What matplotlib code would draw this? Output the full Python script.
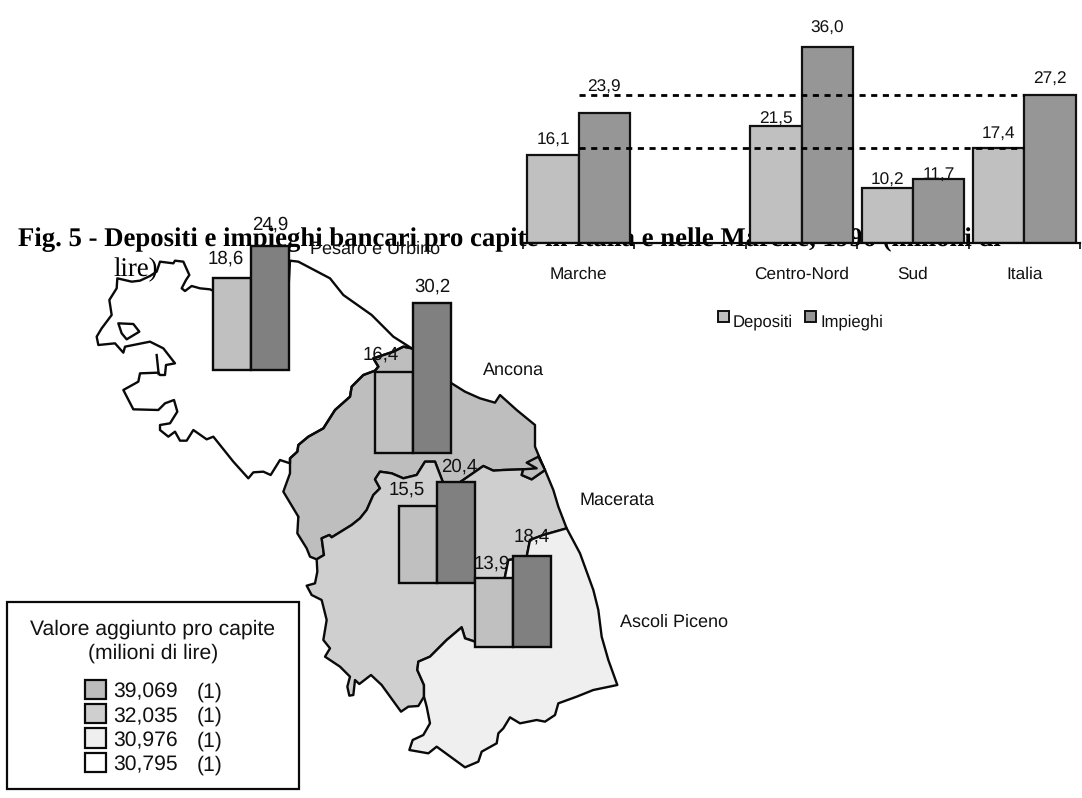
import matplotlib
matplotlib.use("Agg")
import matplotlib.pyplot as plt
from matplotlib.patches import Polygon, Rectangle

plt.rcParams["font.family"] = ["Liberation Sans", "DejaVu Sans"]
plt.rcParams["text.hinting"] = "no_hinting"

W, H = 1082, 798
INK = "#111111"

# National comparison bars
areas = ["Marche", "", "Centro-Nord", "Sud", "Italia"]
depositi = [16.1, None, 21.5, 10.2, 17.4]
impieghi = [23.9, None, 36.0, 11.7, 27.2]
series_names = ["Depositi", "Impieghi"]
depositi_top_color = "#c0c0c0"
impieghi_top_color = "#969696"

# Provincial bars
provinces = ["Pesaro e Urbino", "Ancona", "Macerata", "Ascoli Piceno"]
prov_depositi = [18.6, 16.4, 15.5, 13.9]
prov_impieghi = [24.9, 30.2, 20.4, 18.4]

# Value-added legend
legend_title = ["Valore aggiunto pro capite", "(milioni di lire)"]
legend_values = ["39,069", "32,035", "30,976", "30,795"]
legend_counts = ["(1)", "(1)", "(1)", "(1)"]
legend_colors = ["#bcbcbc", "#cfcfcf", "#efefef", "#ffffff"]

title_line = "Fig. 5 - Depositi e impieghi bancari pro capite in Italia e nelle Marche, 1996 (milioni di"
title_tail = "lire)"

# Province outlines, traced in two local sheets at one third of a pixel per unit
NORTH = (60, 220)
SOUTH = (260, 440)

pesaro_n = [(172,175),(215,185),(240,182),(270,168),(290,155),(300,125),(340,130),(345,122),
    (370,125),(388,165),(378,180),(365,205),(375,213),(395,198),(420,205),(450,208),(465,215),
    (685,215),(690,122),(715,125),(810,175),(850,225),(935,285),(1000,350),(1055,385),
    (1030,380),(1000,395),(940,415),(955,440),(945,452),(910,465),(875,500),(870,530),
    (825,570),(790,625),(745,650),(715,675),(712,695),(690,715),(690,730),(660,720),(632,765),
    (610,755),(580,757),(565,775),(520,725),(460,650),(440,658),(400,630),(380,662),(360,662),
    (345,635),(325,650),(300,630),(300,615),(330,610),(352,575),(342,540),(315,550),(295,570),
    (220,568),(190,510),(235,485),(240,460),(295,458),(300,465),(315,465),(318,435),(345,430),
    (310,385),(270,365),(195,380),(190,398),(165,370),(115,375),(110,350),(125,325),(155,285),
    (148,240),(170,205)]
pesaro_hole_n = [(175,310),(220,312),(238,335),(200,358),(185,340)]
pesaro_inlet_n = [(290,405),(296,462)]

ancona_n = [(1055,385),(1030,380),(1000,395),(940,415),(955,440),(945,452),(910,465),(875,500),
    (870,530),(825,570),(790,625),(745,650),(715,675),(712,695),(690,715),(690,730),(690,760),
    (670,815),(715,890)]
ancona_coast_n = [(1175,490),(1215,515),(1260,535),(1305,548),(1320,525),(1370,570),(1425,615),
    (1425,680),(1450,740)]
ancona_s = [(115,230),(112,280),(140,325),(150,350),(170,358),(192,345),(185,295),(208,285),
    (215,292),(275,255),(300,235),(320,210),(340,165),(360,145),(345,118),(360,95),(395,100),
    (430,115),(470,105),(495,65),(525,65),(550,130),(595,130),(650,92),(670,78),(700,92),
    (730,90),(790,88),(785,105),(815,118),(855,90),(835,50)]

macerata_s = [(170,358),(192,345),(185,295),(208,285),(215,292),(275,255),(300,235),(320,210),
    (340,165),(360,145),(345,118),(360,95),(395,100),(430,115),(470,105),(495,65),(525,65),
    (550,130),(595,130),(650,92),(670,78),(700,92),(730,90),(790,88),(785,105),(815,118),(855,90),
    (880,150),(895,200),(920,265),(850,285),(810,300),(800,350),(760,358),(745,360),(735,410),
    (645,605),(615,595),(605,562),(560,600),(510,650),(475,665),(472,690),(492,735),(492,770),
    (475,798),(445,800),(423,815),(365,735),(333,705),(298,732),(285,720),(280,765),(268,767),
    (262,740),(270,710),(240,680),(195,650),(210,625),(190,600),(200,540),(185,480),(155,465),
    (140,437),(165,430),(172,395)]

ascoli_s = [(920,265),(960,340),(1000,450),(1015,510),(1025,590),(1045,660),(1072,735),(1000,750),
    (950,770),(895,790),(885,825),(855,845),(830,840),(780,850),(750,832),(730,865),(715,880),
    (710,910),(665,935),(655,965),(615,982),(530,920),(505,940),(448,930),(458,900),(490,885),
    (510,850),(500,800),(492,770),(492,735),(472,690),(475,665),(510,650),(560,600),(605,562),
    (615,595),(645,605),(735,410),(745,360),(760,358),(800,350),(810,300),(850,285)]
enclave_s = [(790,88),(830,85),(800,68),(835,50),(855,90),(815,118),(785,105)]


def place(points, sheet):
    return [(sheet[0] + x / 3, sheet[1] + y / 3) for x, y in points]


def comma(value):
    return f"{value:.1f}".replace(".", ",")


fig = plt.figure(figsize=(W / 100, H / 100), dpi=100, facecolor="white")


def pixel_axes(left, top, right, bottom, z):
    ax = fig.add_axes([left / W, 1 - bottom / H, (right - left) / W, (bottom - top) / H], zorder=z)
    ax.patch.set_alpha(0)
    return ax


# Page layer: title and map, addressed in sheet pixels
page = pixel_axes(0, 0, W, H, 1)
page.set_xlim(0, W)
page.set_ylim(H, 0)
page.axis("off")

page.text(18, 246, title_line, family="Liberation Serif", weight="bold", fontsize=19.25,
          color="black", va="baseline", ha="left", zorder=1)
page.text(113, 276, title_tail, family="Liberation Serif", fontsize=19.25,
          color="black", va="baseline", ha="left", zorder=1)

line = dict(edgecolor="#0a0a0a", linewidth=1.7, joinstyle="round")
ancona_ring = place(ancona_n, NORTH) + place(ancona_s, SOUTH) + place(ancona_coast_n[::-1], NORTH)
page.add_patch(Polygon(ancona_ring, closed=True, facecolor="#bebebe", zorder=2, **line))
page.add_patch(Polygon(place(macerata_s, SOUTH), closed=True, facecolor="#cfcfcf", zorder=2, **line))
page.add_patch(Polygon(place(ascoli_s, SOUTH), closed=True, facecolor="#efefef", zorder=2, **line))
page.add_patch(Polygon(place(enclave_s, SOUTH), closed=True, facecolor="#bebebe", zorder=2, **line))
page.add_patch(Polygon(place(pesaro_n, NORTH), closed=True, facecolor="none", zorder=3, **line))
page.add_patch(Polygon(place(pesaro_hole_n, NORTH), closed=True, facecolor="white", zorder=3, **line))
inlet = place(pesaro_inlet_n, NORTH)
page.plot([p[0] for p in inlet], [p[1] for p in inlet], color="#0a0a0a", lw=1.7, zorder=3)

# Province names
name_spots = [(310, 249), (483, 370), (580, 500), (620, 622)]
for name, (x, y) in zip(provinces, name_spots):
    page.text(x, y, name, fontsize=13, color=INK, va="center", ha="left", zorder=5)

# Value-added legend box
page.add_patch(Rectangle((7, 602), 292, 187, facecolor="white", edgecolor="#0a0a0a", lw=1.6, zorder=6))
for text, y in zip(legend_title, (629, 653)):
    page.text(153, y, text, fontsize=15.2, color=INK, ha="center", va="center", zorder=7)
for i, (val, cnt, col) in enumerate(zip(legend_values, legend_counts, legend_colors)):
    y = 692 + i * 24.4
    page.add_patch(Rectangle((85, y - 12.5), 21, 19.5, facecolor=col, edgecolor="#0a0a0a", lw=1.6, zorder=7))
    page.text(113, y, val, fontsize=15.2, color=INK, ha="left", va="center", zorder=7)
    page.text(197, y, cnt, fontsize=15.2, color=INK, ha="left", va="center", zorder=7)

# Provincial bar groups
PX_PER_UNIT = 4.96
groups = [(213, 370), (375, 453), (399, 583), (475, 647)]
label_shift = [((-6, 19), (0, 22)), ((-13, 17), (0, 17)), ((-11, 16), (3, 15)), ((-2, 14), (0, 19))]
for (x0, base), dep, imp, shift in zip(groups, prov_depositi, prov_impieghi, label_shift):
    ax = pixel_axes(x0, base - 170, x0 + 76, base, 4)
    ax.set_xlim(0, 2)
    ax.set_ylim(0, 170 / PX_PER_UNIT)
    ax.axis("off")
    for pos, val, col, (dx, dy) in zip((0.5, 1.5), (dep, imp), ("#c0c0c0", "#808080"), shift):
        ax.bar(pos, val, width=1, color=col, edgecolor="#0a0a0a", linewidth=1.7, clip_on=False)
        ax.annotate(comma(val), (pos, val), xytext=(dx * 0.72, dy * 0.72),
                    textcoords="offset points", ha="center", va="center", fontsize=13.4,
                    color=INK, annotation_clip=False)

# National chart
main = pixel_axes(523, 30, 1080, 243, 4)
main.set_xlim(-0.5, 4.5)
main.set_ylim(0, 213 / 5.44)
for s in ("top", "left", "right"):
    main.spines[s].set_visible(False)
main.spines["bottom"].set_linewidth(1.6)
main.spines["bottom"].set_color("#0a0a0a")
main.set_yticks([])
main.set_xticks([i - 0.5 for i in range(6)])
main.set_xticklabels([])
main.tick_params(axis="x", length=4.5, width=1.2, color="#0a0a0a")
BAR = 0.46
lift_dep = [15, None, 6.5, 7, 15]
lift_imp = [26, None, 19, 5, 16]
for i, name in enumerate(areas):
    main.text(i, -31 / 5.44, name, fontsize=12.4, color=INK, ha="center", va="center")
    if depositi[i] is None:
        continue
    for off, val, col, lift in ((-BAR / 2, depositi[i], depositi_top_color, lift_dep[i]),
                                (BAR / 2, impieghi[i], impieghi_top_color, lift_imp[i])):
        main.bar(i + off, val, width=BAR, color=col, edgecolor="#111111", linewidth=1.6)
        main.annotate(comma(val), (i + off, val), xytext=(0, lift * 0.72),
                      textcoords="offset points", ha="center", va="center", fontsize=12.4,
                      color=INK, annotation_clip=False)

# Reference levels for the national averages
for level in (depositi[4], impieghi[4]):
    main.plot([0, 4], [level, level], color="black", lw=2.0, dashes=(2.2, 2.0), zorder=6)

# Series key below the national chart
for name, col, sq_x, tx_x in zip(series_names, (depositi_top_color, impieghi_top_color), (718, 805), (733, 820)):
    page.add_patch(Rectangle((sq_x, 311), 11, 11, facecolor=col, edgecolor="#111111", lw=1.4, zorder=7))
    page.text(tx_x, 322, name, fontsize=12, color=INK, ha="left", va="center", zorder=7)

fig.savefig("out.png", dpi=100, facecolor="white")
